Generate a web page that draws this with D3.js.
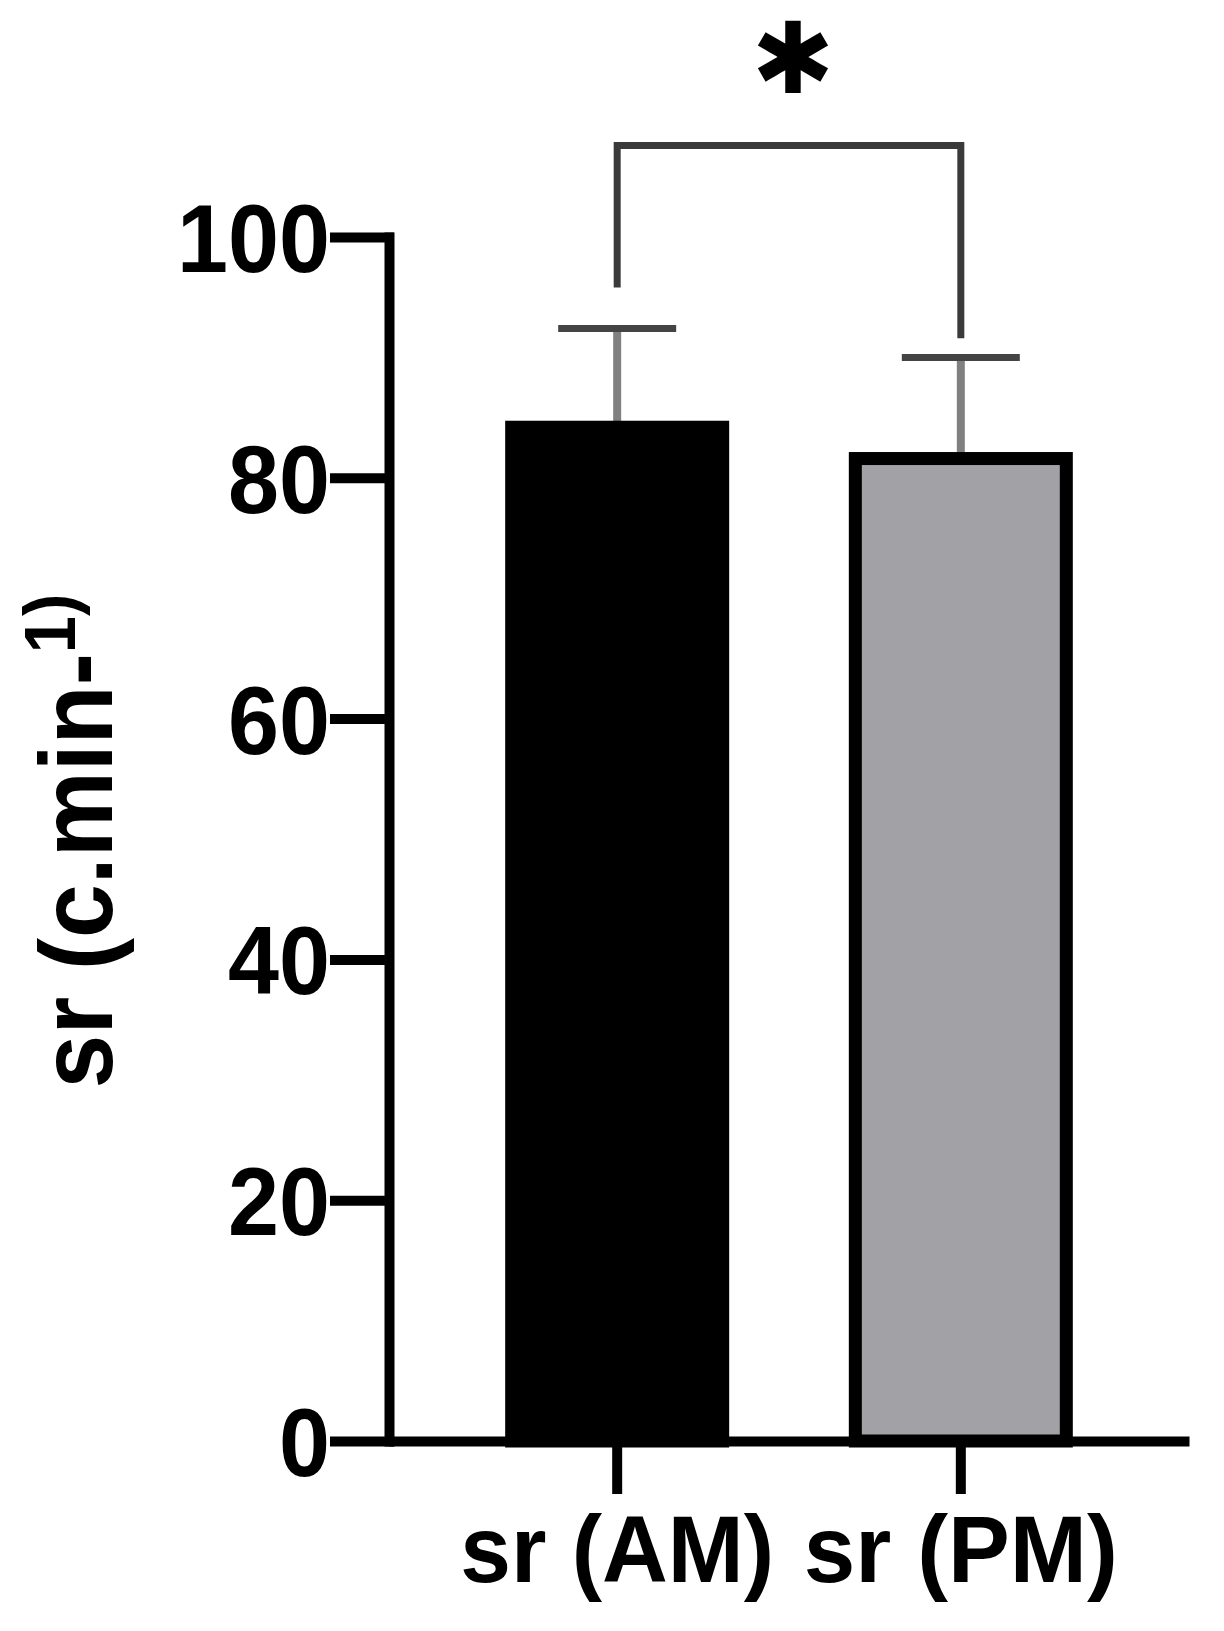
<!DOCTYPE html>
<html>
<head>
  <meta charset="utf-8">
  <title>sr AM vs PM</title>
  <style>
    body { margin: 0; background: #fff; }
    svg text { font-family: "Liberation Sans", Arial, sans-serif; font-weight: bold; fill: #000; }
  </style>
</head>
<body>
  <svg id="chart"></svg>

  <script src="https://d3js.org/d3.v7.min.js"></script>
  <script>
    // data
    const groups = ["sr (AM)", "sr (PM)"];
    const means = [84.2, 81.6];
    const sds = [8.2, 8.4];
    const fills = ["#000000", "#a1a1a6"];
    const yTicks = [0, 20, 40, 60, 80, 100];

    // significance bracket (value units)
    const bracketTop = 107.6;
    const bracketEnds = [95.8, 91.6];
    const sigLabel = "\u2731"; // six-armed asterisk, as in the original

    const width = 1224;
    const height = 1631;

    const svg = d3.select("#chart")
      .attr("width", width)
      .attr("height", height);

    // scales
    const y = d3.scaleLinear()
      .domain([0, 100])
      .range([1441, 237]);

    const x = d3.scaleBand()
      .domain(groups)
      .range([389, 1189])
      .paddingInner(0.386)
      .paddingOuter(0.357);

    const cx = d => x(d) + x.bandwidth() / 2;

    // y axis
    const yAxis = svg.append("g")
      .attr("transform", "translate(389,0)")
      .call(d3.axisLeft(y).tickValues(yTicks).tickSize(54).tickSizeOuter(0).tickPadding(5));

    yAxis.selectAll("path, line")
      .attr("stroke", "#000")
      .attr("stroke-width", 10)
      .attr("stroke-linecap", "square");
    yAxis.selectAll("text")
      .attr("font-size", 96)
      .attr("dy", "0.36em")
      .attr("textLength", d => String(d).length * 51)
      .attr("lengthAdjust", "spacingAndGlyphs");

    // error bars (under the bars so the outline sits on top)
    const err = svg.append("g");
    groups.forEach((g, i) => {
      err.append("line")
        .attr("x1", cx(g)).attr("x2", cx(g))
        .attr("y1", y(means[i])).attr("y2", y(means[i] + sds[i]))
        .attr("stroke", "#808080")
        .attr("stroke-width", 8);
      err.append("line")
        .attr("x1", cx(g) - 59).attr("x2", cx(g) + 59)
        .attr("y1", y(means[i] + sds[i])).attr("y2", y(means[i] + sds[i]))
        .attr("stroke", "#444")
        .attr("stroke-width", 7);
    });

    // bars
    svg.append("g").selectAll("rect")
      .data(groups)
      .join("rect")
      .attr("x", d => x(d))
      .attr("width", x.bandwidth())
      .attr("y", (d, i) => y(means[i]))
      .attr("height", (d, i) => y(0) - y(means[i]))
      .attr("fill", (d, i) => fills[i])
      .attr("stroke", "#000")
      .attr("stroke-width", 13);

    // x axis
    const xAxis = svg.append("g")
      .attr("transform", `translate(0,${y(0)})`)
      .call(d3.axisBottom(x).tickSize(53).tickSizeOuter(0).tickPadding(21));

    xAxis.selectAll("path, line")
      .attr("stroke", "#000")
      .attr("stroke-width", 10);
    xAxis.selectAll("text")
      .attr("font-size", 94)
      .attr("textLength", 314)
      .attr("lengthAdjust", "spacingAndGlyphs");

    // y axis title, squeezed a little like the original
    const title = svg.append("text")
      .attr("transform", "translate(112,841) rotate(-90) scale(0.93,1)")
      .attr("text-anchor", "middle")
      .attr("font-size", 104);
    title.append("tspan").text("sr (c.min-");
    title.append("tspan")
      .attr("font-size", 72)
      .attr("dy", -37)
      .text("1)");

    // significance bracket
    const [g0, g1] = groups;
    svg.append("path")
      .attr("d", d3.line()([
        [cx(g0), y(bracketEnds[0])],
        [cx(g0), y(bracketTop)],
        [cx(g1), y(bracketTop)],
        [cx(g1), y(bracketEnds[1])]
      ]))
      .attr("fill", "none")
      .attr("stroke", "#3a3a3a")
      .attr("stroke-width", 7);

    svg.append("text")
      .attr("x", (cx(g0) + cx(g1)) / 2 + 4)
      .attr("y", y(112))
      .attr("text-anchor", "middle")
      .style("font-family", "DejaVu Sans")
      .attr("font-size", 99)
      .text(sigLabel);
  </script>
</body>
</html>
